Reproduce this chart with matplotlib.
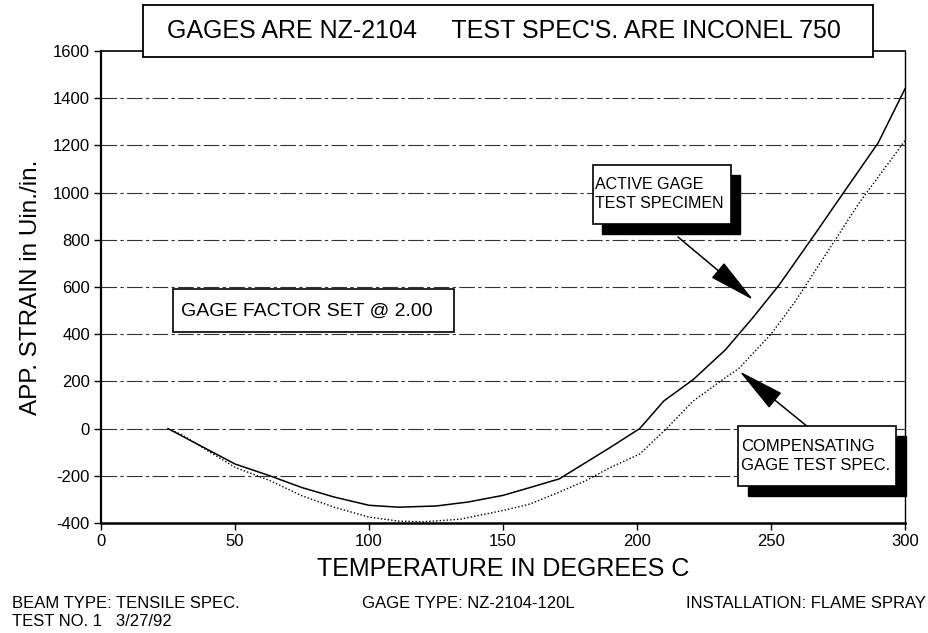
import matplotlib
matplotlib.use("Agg")
import matplotlib.pyplot as plt
from matplotlib.patches import Rectangle

plt.rcParams['font.family'] = ['Liberation Sans', 'DejaVu Sans']
plt.rcParams['axes.unicode_minus'] = False

# data
temp_active = [25, 30, 40, 50, 63, 75, 87, 100, 111, 125, 137, 150, 160, 171, 180, 190,
               201, 210, 221, 233, 243, 253, 266, 278, 290, 300]
strain_active = [0, -30, -90, -150, -200, -250, -290, -325, -333, -328, -311, -283, -250, -213, -150, -80,
                 0, 117, 208, 334, 467, 608, 818, 1015, 1211, 1440]

temp_comp = [25, 30, 40, 50, 63, 75, 87, 100, 111, 120, 134, 150, 160, 171, 181, 190,
             201, 211, 221, 232, 238, 250, 259, 271, 283, 300]
strain_comp = [0, -25, -95, -164, -220, -285, -333, -375, -392, -395, -384, -347, -320, -269, -220, -165,
               -108, 0, 117, 208, 255, 400, 538, 748, 958, 1220]

x_ticks = [0, 50, 100, 150, 200, 250, 300]
y_ticks = [-400, -200, 0, 200, 400, 600, 800, 1000, 1200, 1400, 1600]

W, H = 929, 633
fig = plt.figure(figsize=(W / 100, H / 100), dpi=100)


def fx(x):
    return x / W


def fy(y):
    return 1 - y / H


ax = fig.add_axes([fx(101), fy(523), fx(905) - fx(101), fy(51) - fy(523)])
ax.plot(temp_active, strain_active, color='black', lw=1.1, zorder=3)
ax.plot(temp_comp, strain_comp, color='black', lw=1.0, ls=(0, (1, 1.5)), zorder=3)

ax.set_xlim(0, 300)
ax.set_ylim(-400, 1600)
ax.set_xticks(x_ticks)
ax.set_yticks(y_ticks)
ax.tick_params(direction='out', length=5, width=1, labelsize=12, pad=3)
for yv in y_ticks[1:-1]:
    ax.axhline(yv, color='#333333', lw=0.8, ls=(0, (14, 3, 3, 3)), zorder=1)

ax.spines['left'].set_linewidth(1.6)
ax.spines['bottom'].set_linewidth(1.8)
ax.spines['right'].set_linewidth(1.0)
ax.spines['top'].set_linewidth(1.2)

ax.set_xlabel('TEMPERATURE IN DEGREES C', fontsize=18, labelpad=6)
ax.set_ylabel('APP. STRAIN in Uin./in.', fontsize=17.5, labelpad=8)


def box(x0, y0, x1, y1, shadow=None, lw=1.2):
    if shadow:
        fig.add_artist(Rectangle((fx(x0 + shadow[0]), fy(y1 + shadow[1])),
                                 fx(x1 - x0), fy(y0) - fy(y1),
                                 transform=fig.transFigure, facecolor='black',
                                 edgecolor='black', zorder=4))
    fig.add_artist(Rectangle((fx(x0), fy(y1)), fx(x1 - x0), fy(y0) - fy(y1),
                             transform=fig.transFigure, facecolor='white',
                             edgecolor='black', lw=lw, zorder=5))


# title box
box(143, 5, 873, 57, lw=1.3)
fig.text(fx(504), fy(31), "GAGES ARE NZ-2104     TEST SPEC'S. ARE INCONEL 750",
         fontsize=18, ha='center', va='center', zorder=6)

# gage factor box
box(173, 289, 454, 332)
fig.text(fx(181), fy(311), 'GAGE FACTOR SET @ 2.00', fontsize=14,
         ha='left', va='center', zorder=6)

# active gage label
box(593, 165, 731, 224, shadow=(9, 10))
fig.text(fx(595), fy(194), 'ACTIVE GAGE\nTEST SPECIMEN', fontsize=11.5,
         ha='left', va='center', linespacing=1.3, zorder=6)

# compensating gage label
box(738, 426, 896, 486, shadow=(10, 10))
fig.text(fx(741), fy(456), 'COMPENSATING\nGAGE TEST SPEC.', fontsize=12,
         ha='left', va='center', linespacing=1.3, zorder=6)

arrow = dict(arrowstyle='-|>,head_length=1.2,head_width=0.25', mutation_scale=25,
             color='black', lw=1.1, shrinkA=0, shrinkB=0)
ax.annotate('', xy=(243.4, 545), xycoords='data',
            xytext=(678, H - 237), textcoords='figure pixels', arrowprops=arrow,
            zorder=7, annotation_clip=False)
ax.annotate('', xy=(238.2, 243), xycoords='data',
            xytext=(808, H - 427), textcoords='figure pixels', arrowprops=arrow,
            zorder=7, annotation_clip=False)

# footer
fig.text(fx(12), fy(604), 'BEAM TYPE: TENSILE SPEC.', fontsize=12, va='center')
fig.text(fx(12), fy(621), 'TEST NO. 1   3/27/92', fontsize=12, va='center')
fig.text(fx(362), fy(604), 'GAGE TYPE: NZ-2104-120L', fontsize=12, va='center')
fig.text(fx(926), fy(604), 'INSTALLATION: FLAME SPRAY', fontsize=12,
         va='center', ha='right')

fig.savefig('out.png', dpi=100)
